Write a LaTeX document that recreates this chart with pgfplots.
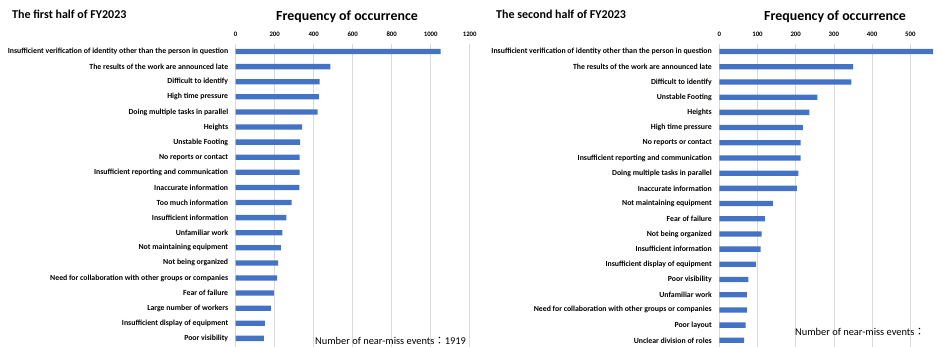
\documentclass[border=0pt]{standalone}
\usepackage{pgfplots}
\pgfplotsset{compat=1.18}
\usepackage{fontspec}
\setmainfont{Carlito}
\newfontfamily\cjk{Noto Sans CJK JP}
\definecolor{barblue}{HTML}{4472C4}
\begin{document}
\begin{tikzpicture}
\path[use as bounding box] (0pt,0pt) rectangle (943pt,347pt);
\clip (0pt,0pt) rectangle (943pt,347pt);
\pgfplotsset{
 hb/.style={
  xbar, bar width=5.3pt,
  scale only axis,
  y dir=reverse,
  ymin=-0.5,
  ytick={0,...,19},
  axis line style={draw=none},
  major tick length=0pt,
  xmajorgrids, grid style={black!15, line width=0.6pt},
  xticklabel pos=upper,
  xticklabel style={font=\bfseries\fontsize{6.8}{7}\selectfont, yshift=4pt},
  yticklabel style={font=\bfseries\fontsize{7.8}{8}\selectfont, xshift=-4pt},
  xmin=0,
  clip=false,
  /pgf/number format/assume math mode=true,
  /pgf/number format/1000 sep={},
 }
}
\begin{axis}[hb, at={(235.7pt,303pt)}, anchor=north west, width=234pt, height=303pt,
  ymax=19.57, xmax=1200, xtick={0,200,...,1200},
  yticklabels={Insufficient verification of identity other than the person in question,
  The results of the work are announced late,
  Difficult to identify,
  High time pressure,
  Doing multiple tasks in parallel,
  Heights,
  Unstable Footing,
  No reports or contact,
  Insufficient reporting and communication,
  Inaccurate information,
  Too much information,
  Insufficient information,
  Unfamiliar work,
  Not maintaining equipment,
  Not being organized,
  Need for collaboration with other groups or companies,
  Fear of failure,
  Large number of workers,
  Insufficient display of equipment,
  Poor visibility}]
\addplot[draw=none, fill=barblue] coordinates {
(1051,0) (485,1) (431,2) (427,3) (420,4) (340,5) (330,6) (328,7) (328,8) (326,9)
(287,10) (260,11) (239,12) (232,13) (217,14) (212,15) (196,16) (181,17) (149,18) (145,19)};
\end{axis}
\begin{axis}[hb, at={(719.3pt,303pt)}, anchor=north west, width=229.2pt, height=303pt,
  ymax=19.44, xmax=600, xtick={0,100,...,600},
  yticklabels={Insufficient verification of identity other than the person in question,
  The results of the work are announced late,
  Difficult to identify,
  Unstable Footing,
  Heights,
  High time pressure,
  No reports or contact,
  Insufficient reporting and communication,
  Doing multiple tasks in parallel,
  Inaccurate information,
  Not maintaining equipment,
  Fear of failure,
  Not being organized,
  Insufficient information,
  Insufficient display of equipment,
  Poor visibility,
  Unfamiliar work,
  Need for collaboration with other groups or companies,
  Poor layout,
  Unclear division of roles}]
\addplot[draw=none, fill=barblue] coordinates {
(560,0) (350,1) (346,2) (257,3) (236,4) (219,5) (213,6) (213,7) (207,8) (203,9)
(140,10) (119,11) (111,12) (108,13) (96,14) (76,15) (72,16) (72,17) (69,18) (65,19)};
\end{axis}
\node[font=\bfseries\fontsize{12}{14}\selectfont, anchor=west, inner sep=0pt] at (12pt,333pt) {The first half of FY2023};
\node[font=\bfseries\fontsize{12}{14}\selectfont, anchor=west, inner sep=0pt] at (496pt,333pt) {The second half of FY2023};
\node[font=\bfseries\fontsize{13.9}{16}\selectfont, inner sep=0pt] at (347pt,330pt) {Frequency of occurrence};
\node[font=\bfseries\fontsize{13.9}{16}\selectfont, inner sep=0pt] at (835pt,330pt) {Frequency of occurrence};
\node[font=\fontsize{10.4}{12}\selectfont, anchor=west, inner sep=0pt] at (315pt,6pt) {Number of near-miss events{\cjk ：}1919};
\node[font=\fontsize{10.4}{12}\selectfont, anchor=west, inner sep=0pt] at (795pt,15pt) {Number of near-miss events{\cjk ：}};
\end{tikzpicture}
\end{document}
